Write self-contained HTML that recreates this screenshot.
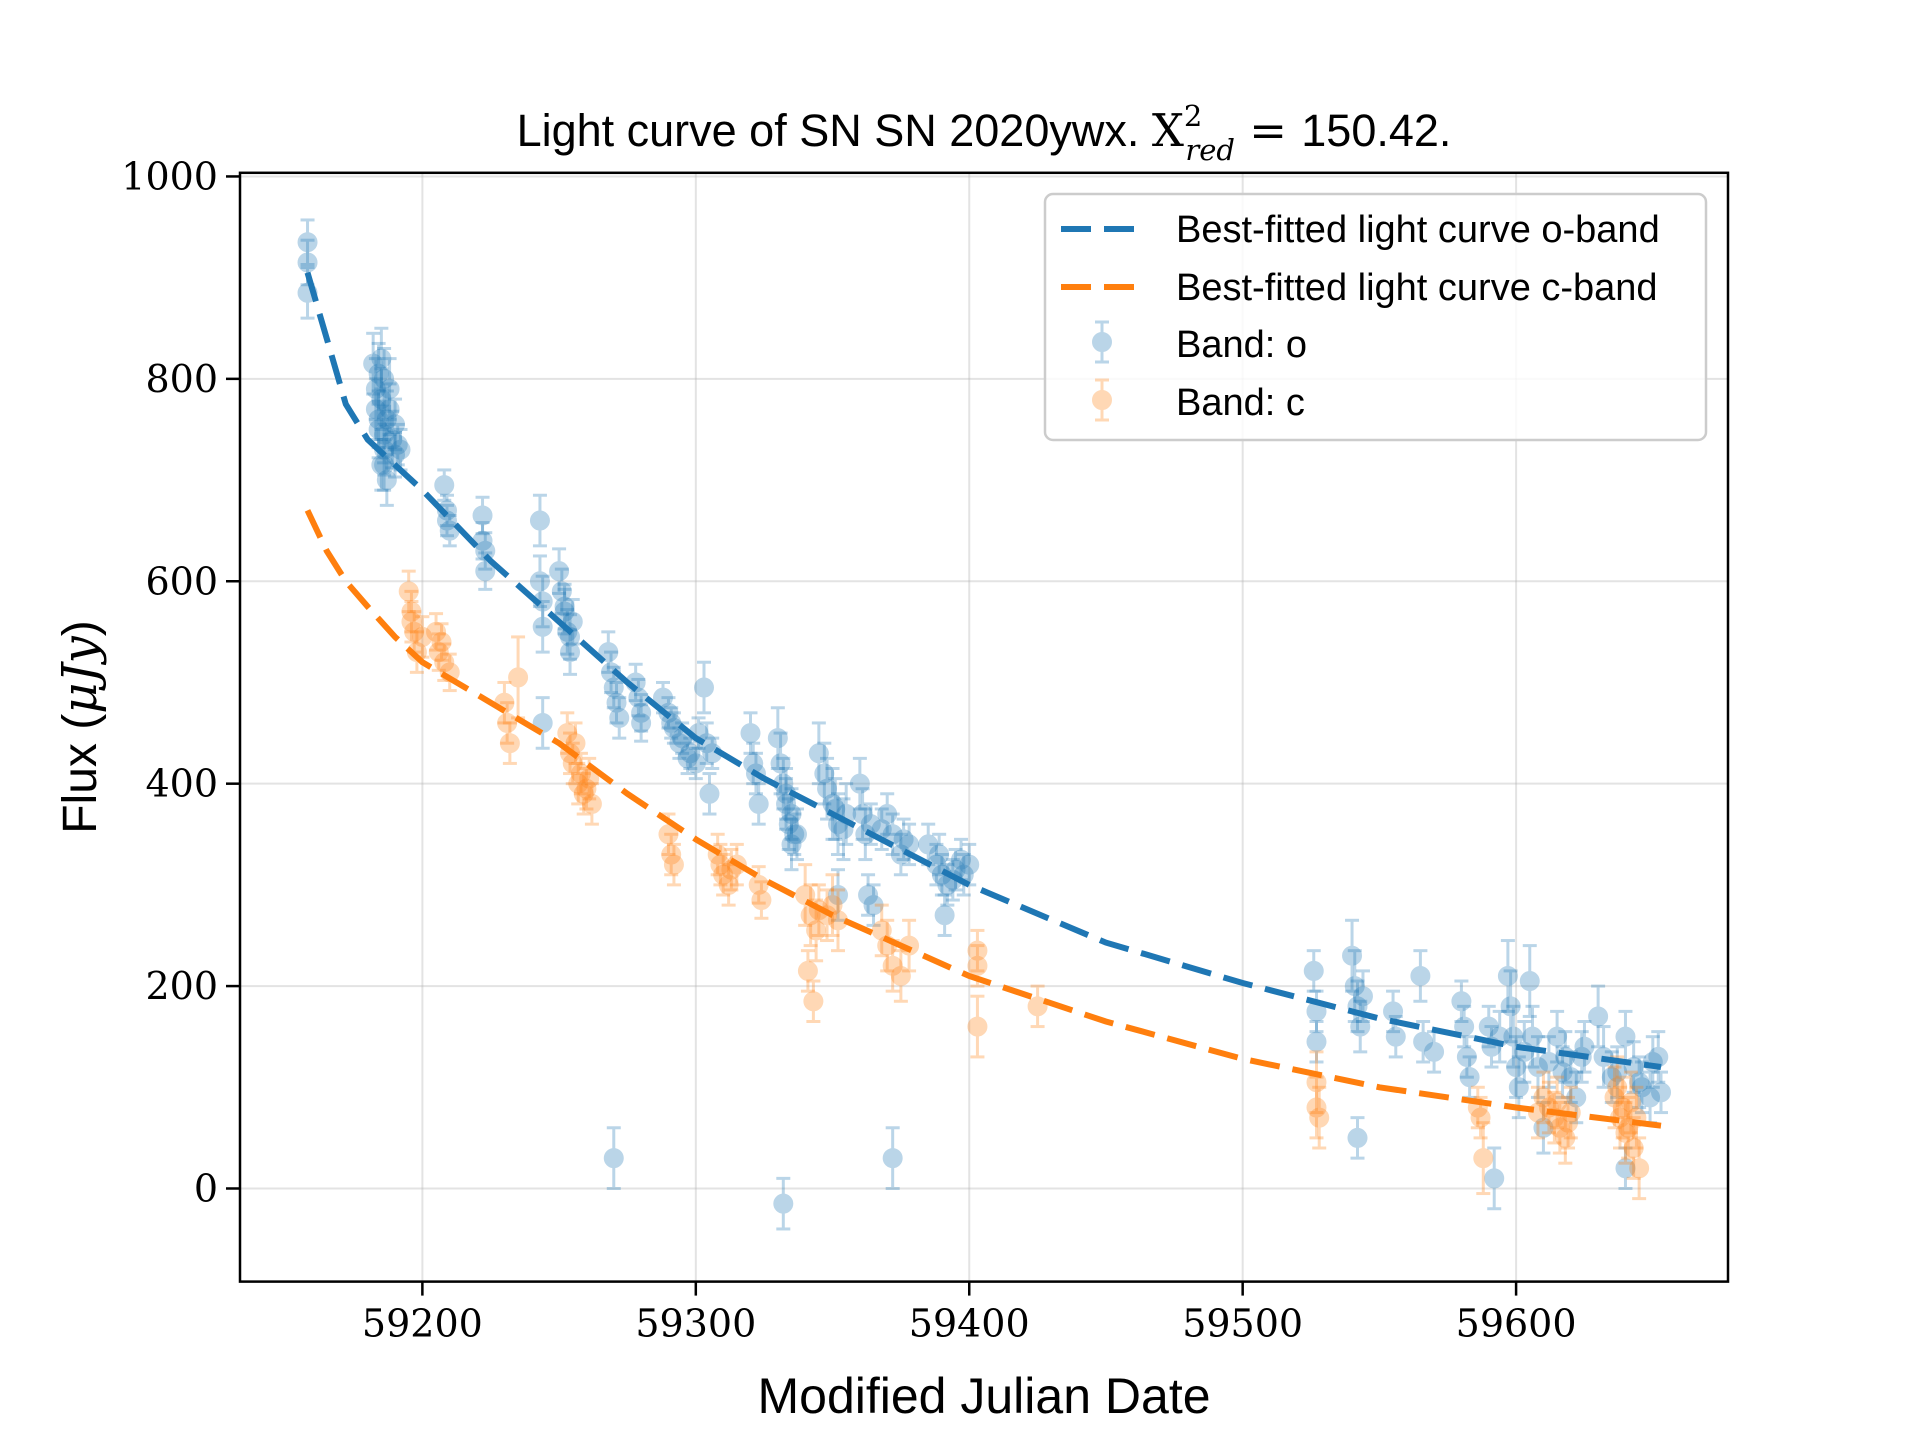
<!DOCTYPE html>
<html><head><meta charset="utf-8"><style>
html,body{margin:0;padding:0;background:#fff;}
svg{display:block;}
.sans{font-family:"Liberation Sans","DejaVu Sans",sans-serif;}
.serif{font-family:"DejaVu Serif","Liberation Serif",serif;}
</style></head><body>
<svg id="chart" width="1920" height="1440" viewBox="0 0 1920 1440" xmlns="http://www.w3.org/2000/svg">
<rect width="1920" height="1440" fill="#fff"/>
<g id="grid"></g>
<g id="points"></g>
<g id="fits"></g>
<rect x="240" y="172.8" width="1488" height="1108.8" fill="none" stroke="#000" stroke-width="2.5"/>
<g id="ticks"></g>
<text class="sans" x="984" y="146" font-size="45" text-anchor="middle">Light curve of SN SN 2020ywx. <tspan class="serif">X</tspan><tspan class="serif" font-size="29" dy="-20">2</tspan><tspan class="serif" font-style="italic" font-size="29" dx="-17" dy="34">red</tspan><tspan class="serif" dy="-14"> = </tspan>150.42.</text>
<text class="sans" x="984" y="1413" font-size="50" text-anchor="middle">Modified Julian Date</text>
<text class="sans" transform="translate(96,727) rotate(-90)" font-size="48" text-anchor="middle">Flux (<tspan class="serif" font-style="italic">μJy</tspan>)</text>
<g>
<rect x="1045" y="194" width="661" height="246" rx="8" fill="#fff" fill-opacity="0.8" stroke="#ccc" stroke-width="2.5"/>
<line x1="1061" y1="229" x2="1139" y2="229" stroke="#1f77b4" stroke-width="6" stroke-dasharray="30,13"/>
<text class="sans" x="1176" y="242" font-size="38">Best-fitted light curve o-band</text>
<line x1="1061" y1="287" x2="1139" y2="287" stroke="#ff7f0e" stroke-width="6" stroke-dasharray="30,13"/>
<text class="sans" x="1176" y="300" font-size="38">Best-fitted light curve c-band</text>
<g opacity="0.3"><line x1="1102" y1="322" x2="1102" y2="362" stroke="#1f77b4" stroke-width="3"/><line x1="1095" y1="322" x2="1109" y2="322" stroke="#1f77b4" stroke-width="3"/><line x1="1095" y1="362" x2="1109" y2="362" stroke="#1f77b4" stroke-width="3"/><circle cx="1102" cy="342" r="8" fill="#1f77b4" stroke="#1f77b4" stroke-width="4"/></g>
<text class="sans" x="1176" y="357" font-size="38">Band: o</text>
<g opacity="0.3"><line x1="1102" y1="380" x2="1102" y2="420" stroke="#ff7f0e" stroke-width="3"/><line x1="1095" y1="380" x2="1109" y2="380" stroke="#ff7f0e" stroke-width="3"/><line x1="1095" y1="420" x2="1109" y2="420" stroke="#ff7f0e" stroke-width="3"/><circle cx="1102" cy="400" r="8" fill="#ff7f0e" stroke="#ff7f0e" stroke-width="4"/></g>
<text class="sans" x="1176" y="415" font-size="38">Band: c</text>
</g>
</svg>
<script>
const xTicks=[59200,59300,59400,59500,59600];
const yTicks=[0,200,400,600,800,1000];
// o-band observations: mjd, flux, err
const oMjd=[59158,59158,59158,59182,59183,59183,59184,59184,59185,59185,59186,59186,59187,59187,59188,59189,59190,59191,59192,59185,59186,59184,59186,59188,59190,
59208,59209,59209,59210,59222,59222,59223,59223,59243,59243,59244,59244,59244,59250,59251,59252,59253,59254,59255,59252,59254,
59268,59269,59270,59270,59271,59272,59278,59279,59280,59280,59288,59290,59292,59295,59298,59300,59303,59304,59305,59291,59294,59297,59301,59306,
59320,59321,59322,59323,59330,59331,59332,59333,59334,59335,59336,59332,59345,59347,59350,59352,59355,59352,59333,59335,59337,59348,59351,59354,
59360,59361,59362,59363,59365,59370,59372,59375,59378,59372,59385,59388,59390,59392,59395,59398,59400,59391,59364,59368,59376,59389,59394,59397,
59526,59527,59527,59540,59541,59542,59543,59544,59542,59555,59556,59565,59566,59570,59580,59581,59582,59583,
59590,59591,59592,59597,59598,59599,59600,59601,59605,59606,59608,59610,59615,59618,59620,59622,59625,59594,59603,59612,59617,59624,
59630,59632,59635,59640,59643,59646,59649,59652,59640,59653,59637,59645,59650];
const oFlux=[935,915,885,815,790,770,805,750,820,780,730,800,760,700,790,740,755,735,730,715,715,760,745,770,725,
695,670,660,650,665,640,630,610,660,600,580,555,460,610,590,570,550,530,560,575,545,
530,510,495,30,480,465,500,485,470,460,485,470,455,445,430,420,495,440,390,460,440,425,450,430,
450,420,410,380,445,420,400,380,360,340,350,-15,430,410,380,360,370,290,390,370,350,395,375,355,
400,370,350,290,280,370,350,330,340,30,340,320,310,300,315,310,320,270,360,355,345,330,305,325,
215,175,145,230,200,180,160,190,50,175,150,210,145,135,185,160,130,110,
160,140,10,210,180,150,120,100,205,150,120,60,150,130,110,90,140,150,135,125,115,130,
170,130,110,150,120,100,90,130,20,95,115,105,125];
const oErr=[22,22,25,30,30,30,30,28,30,30,25,30,28,25,30,28,25,20,20,25,25,28,28,25,22,
15,15,15,15,18,18,18,18,25,25,25,25,25,22,22,22,22,22,22,22,22,
20,20,20,30,20,20,18,18,18,18,15,15,15,15,15,15,25,20,20,15,15,15,15,15,
20,20,20,20,30,30,25,25,25,25,20,25,30,30,35,30,30,25,25,25,25,30,30,30,
25,25,25,20,20,20,20,20,20,30,20,20,20,20,20,20,20,20,20,20,20,20,20,20,
20,20,20,35,35,25,25,25,20,20,20,25,20,20,20,20,20,20,
20,20,30,35,35,30,30,30,35,30,30,25,25,25,25,25,25,25,30,25,25,25,
30,30,25,25,25,25,25,25,20,20,25,25,25];
// c-band observations
const cMjd=[59195,59196,59197,59198,59200,59205,59206,59208,59210,59230,59231,59232,59235,59253,59255,59257,59259,59262,59256,59254,59258,59260,59261,59196,59207,
59290,59291,59292,59308,59310,59312,59315,59323,59324,59340,59342,59344,59341,59343,59350,59352,59309,59313,59345,59348,
59368,59370,59372,59375,59378,59403,59403,59403,59425,59527,59527,59528,59586,59587,59588,
59610,59612,59614,59616,59618,59620,59637,59639,59641,59643,59645,59644,59608,59615,59619,59636,59638,59640,59642];
const cFlux=[590,570,550,530,545,550,530,520,510,480,460,440,505,450,420,400,390,380,440,430,410,395,405,560,540,
350,330,320,330,310,300,320,300,285,290,270,255,215,185,280,265,320,315,275,270,
255,240,220,210,240,235,220,160,180,105,80,70,80,70,30,
90,80,70,60,50,75,100,80,60,40,20,70,75,85,65,90,70,55,85];
const cErr=[20,20,20,20,20,18,18,18,18,20,20,20,40,20,20,20,20,20,20,20,20,20,20,20,18,
20,20,20,20,20,20,20,18,18,30,30,30,20,20,30,30,20,20,25,25,
25,25,25,25,25,20,20,30,20,30,30,30,20,20,35,
25,25,25,25,25,25,30,30,30,30,30,30,25,25,25,30,30,30,30];
// best-fit model curves
const fitMjd=[59158,59165,59172,59180,59190,59200,59225,59250,59275,59300,59325,59350,59375,59400,59450,59500,59550,59600,59653];
const fitO=[905,840,775,740,715,690,620,560,500,445,405,370,335,300,243,203,168,140,120];
const fitC=[670,630,600,575,545,520,480,440,390,345,305,270,240,210,165,128,100,80,62];

const X0=240,X1=1728,Y0=172.8,Y1=1281.6,XMIN=59133.3,XMAX=59677.5,YMIN=-92,YMAX=1003.6;
const xs=v=>X0+(v-XMIN)/(XMAX-XMIN)*(X1-X0);
const ys=v=>Y1-(v-YMIN)/(YMAX-YMIN)*(Y1-Y0);
const NS='http://www.w3.org/2000/svg';
function mk(tag,attrs,parent){const e=document.createElementNS(NS,tag);for(const k in attrs)e.setAttribute(k,attrs[k]);parent.appendChild(e);return e;}
const grid=document.getElementById('grid'),ticks=document.getElementById('ticks');
xTicks.forEach(t=>{const x=xs(t);
 const g=mk('line',{x1:x,x2:x,y1:Y0,y2:Y1,stroke:'#b0b0b0','stroke-opacity':0.35,'stroke-width':2},grid);
 
 
 const tk=mk('line',{x1:x,x2:x,y1:Y1,y2:Y1+14,stroke:'#000','stroke-width':2.5},ticks);
 
 
 const tx=mk('text',{x:x,y:Y1+55,'font-size':38,'text-anchor':'middle',class:'serif'},ticks);tx.textContent=t;
 
 
});
yTicks.forEach(t=>{const y=ys(t);
 const g=mk('line',{x1:X0,x2:X1,y1:y,y2:y,stroke:'#b0b0b0','stroke-opacity':0.35,'stroke-width':2},grid);
 
 
 const tk=mk('line',{x1:X0-14,x2:X0,y1:y,y2:y,stroke:'#000','stroke-width':2.5},ticks);
 
 
 const tx=mk('text',{x:X0-22,y:y+13,'font-size':38,'text-anchor':'end',class:'serif'},ticks);tx.textContent=t;
 
 
});
const pts=document.getElementById('points');
function drawBand(m,f,e,col,name){
 for(let i=0;i<m.length;i++){
  const g=mk('g',{opacity:0.3},pts);
  
  
  const x=xs(m[i]),yt=ys(f[i]+e[i]),yb=ys(f[i]-e[i]),y=ys(f[i]);
  mk('line',{x1:x,x2:x,y1:yt,y2:yb,stroke:col,'stroke-width':3},g);
  mk('line',{x1:x-7,x2:x+7,y1:yt,y2:yt,stroke:col,'stroke-width':3},g);
  mk('line',{x1:x-7,x2:x+7,y1:yb,y2:yb,stroke:col,'stroke-width':3},g);
  mk('circle',{cx:x,cy:y,r:8,fill:col,stroke:col,'stroke-width':4},g);
 }
}
drawBand(oMjd,oFlux,oErr,'#1f77b4','o-band-point');
drawBand(cMjd,cFlux,cErr,'#ff7f0e','c-band-point');
const fits=document.getElementById('fits');
function drawFit(vals,col,name){
 const d=fitMjd.map((m,i)=>(i?'L':'M')+xs(m).toFixed(1)+','+ys(vals[i]).toFixed(1)).join(' ');
 const p=mk('path',{d:d,fill:'none',stroke:col,'stroke-width':6,'stroke-dasharray':'30,13'},fits);
 
 
}
drawFit(fitO,'#1f77b4','fit-curve-o-band');
drawFit(fitC,'#ff7f0e','fit-curve-c-band');
</script>
</body></html>
